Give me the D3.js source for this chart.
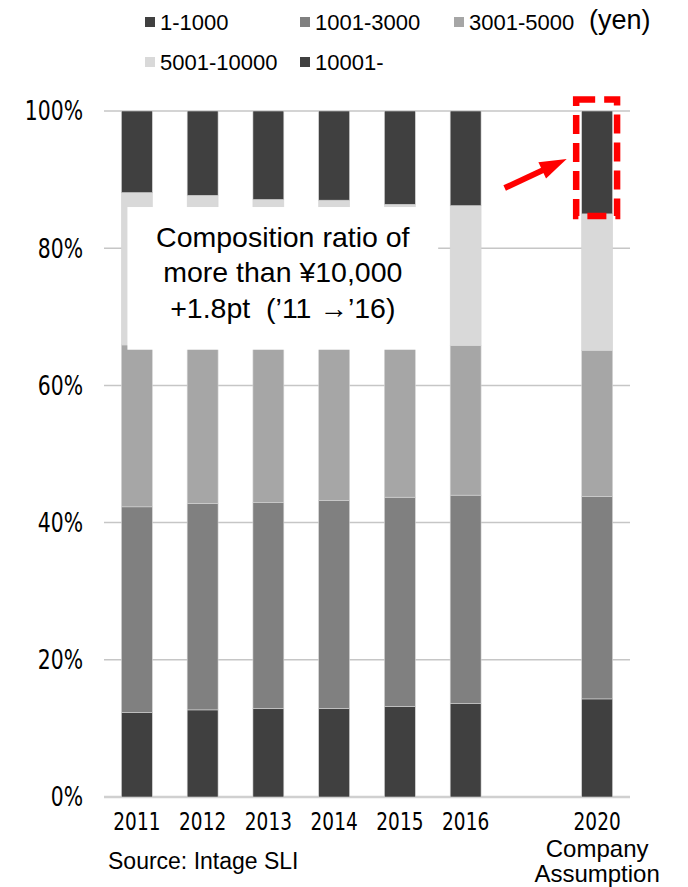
<!DOCTYPE html>
<html lang="en">
<head>
    <meta charset="UTF-8">
    <title>Price band composition</title>
    <script src="https://d3js.org/d3.v7.min.js"></script>
    <style>
        body {
            margin: 0;
            background: #fff;
        }
        svg {
            display: block;
            font-family: "Liberation Sans", Arial, sans-serif;
        }
        .grid line {
            stroke: #c6c6c6;
            stroke-width: 1.5px;
        }
        .ylab, .xlab {
            font-family: "DejaVu Sans Condensed", "Liberation Sans Narrow", sans-serif;
            fill: #000;
        }
        .legend text {
            font-size: 22px;
        }
        .note {
            white-space: pre;
        }
    </style>
</head>
<body>
    <svg width="688" height="887"></svg>

    <script>
        // values, share in % of each year's total
        const years = ["2011", "2012", "2013", "2014", "2015", "2016", "gap", "2020"];
        const series = ["1-1000", "1001-3000", "3001-5000", "5001-10000", "10001-"];
        const colors = ["#404040", "#808080", "#a6a6a6", "#d9d9d9", "#404040"];

        const band1to1000 = [12.3, 12.7, 12.9, 12.9, 13.2, 13.6, null, 14.3];
        const band1001to3000 = [30.0, 30.1, 30.0, 30.3, 30.5, 30.4, null, 29.5];
        const band3001to5000 = [23.6, 22.8, 22.6, 22.4, 22.0, 21.8, null, 21.3];
        const band5001to10000 = [22.2, 22.1, 21.6, 21.4, 20.7, 20.4, null, 19.9];
        const band10001up = [11.9, 12.3, 12.9, 13.0, 13.6, 13.8, null, 15.0];

        const xLabels = [["2011"], ["2012"], ["2013"], ["2014"], ["2015"], ["2016"], [], ["2020"]];
        const subLabels = ["Company", "Assumption"];
        const yTicks = [0, 20, 40, 60, 80, 100];

        const svg = d3.select("svg");

        const x = d3.scaleBand()
            .domain(years)
            .range([104, 630])
            .paddingInner(0.53)
            .paddingOuter(0.265);

        const y = d3.scaleLinear()
            .domain([0, 100])
            .range([797, 111]);

        // rows for the stack, the empty slot is skipped
        const rows = years.map((yr, i) => ({
            year: yr,
            "1-1000": band1to1000[i],
            "1001-3000": band1001to3000[i],
            "3001-5000": band3001to5000[i],
            "5001-10000": band5001to10000[i],
            "10001-": band10001up[i]
        })).filter(d => d["1-1000"] !== null);

        const stacked = d3.stack().keys(series)(rows);

        // gridlines
        svg.append("g")
            .attr("class", "grid")
            .selectAll("line")
            .data(yTicks)
            .enter().append("line")
            .attr("x1", 104)
            .attr("x2", 630)
            .attr("y1", d => y(d))
            .attr("y2", d => y(d))
            .style("stroke", d => d === 0 ? "#d0d0d0" : null)
            .style("stroke-width", d => d === 0 ? "2.5px" : null);

        // y labels, squeezed a bit like the narrow font of the original
        svg.append("g")
            .selectAll("text")
            .data(yTicks)
            .enter().append("text")
            .attr("class", "ylab")
            .attr("transform", d => `translate(83,${y(d)}) scale(0.87,1)`)
            .attr("dy", "0.36em")
            .attr("text-anchor", "end")
            .style("font-size", "26px")
            .text(d => d + "%");

        // bars
        svg.append("g")
            .selectAll("g")
            .data(stacked)
            .enter().append("g")
            .attr("fill", (d, i) => colors[i])
            .selectAll("rect")
            .data(d => d)
            .enter().append("rect")
            .attr("x", d => x(d.data.year))
            .attr("width", x.bandwidth())
            .attr("y", d => y(d[1]))
            .attr("height", d => y(d[0]) - y(d[1]))
            .attr("stroke", "#d4d4d4")
            .attr("stroke-width", 0.6);

        // x labels
        svg.append("g")
            .selectAll("text")
            .data(years.map((yr, i) => ({ year: yr, label: xLabels[i][0] })).filter(d => d.label))
            .enter().append("text")
            .attr("class", "xlab")
            .attr("text-anchor", "middle")
            .attr("transform", d => `translate(${x(d.year) + x.bandwidth() / 2},821) scale(0.84,1)`)
            .attr("dy", "0.36em")
            .style("font-size", "24.5px")
            .text(d => d.label);

        svg.append("g")
            .selectAll("text")
            .data(subLabels)
            .enter().append("text")
            .attr("x", x("2020") + x.bandwidth() / 2)
            .attr("y", (d, i) => 849 + i * 24.5)
            .attr("dy", "0.34em")
            .attr("text-anchor", "middle")
            .style("font-size", "24px")
            .text(d => d);

        svg.append("text")
            .attr("x", 108)
            .attr("y", 861)
            .attr("dy", "0.36em")
            .style("font-size", "23px")
            .text("Source: Intage SLI");

        // annotation box on top of the bars
        const boxL = x("2011") + 6;
        const boxR = x("2016") - 12;
        svg.append("rect")
            .attr("x", boxL)
            .attr("y", y(86))
            .attr("width", boxR - boxL)
            .attr("height", y(65.2) - y(86))
            .attr("fill", "#fff");

        svg.append("g")
            .selectAll("text")
            .data(["Composition ratio of", "more than \u00a510,000", "+1.8pt  (\u201911 \u2192\u201916)"])
            .enter().append("text")
            .attr("class", "note")
            .attr("x", (boxL + boxR) / 2)
            .attr("y", (d, i) => 237 + i * 35.2)
            .attr("dy", "0.36em")
            .attr("text-anchor", "middle")
            .style("font-size", "28.5px")
            .text(d => d);

        // red dashed highlight round the 2020 top segment
        const rx = x("2020");
        svg.append("rect")
            .attr("x", rx - 5.5)
            .attr("y", y(100) - 11.5)
            .attr("width", x.bandwidth() + 10)
            .attr("height", y(85) - y(100) + 13.5)
            .attr("fill", "none")
            .attr("stroke", "#ff0000")
            .attr("stroke-width", 6.5)
            .attr("stroke-dasharray", "19,9");

        // arrow
        const tip = [rx - 15, y(93)];
        const tail = [tip[0] - 62, tip[1] + 29];
        const ang = Math.atan2(tip[1] - tail[1], tip[0] - tail[0]);
        const headLen = 27, headHalf = 9;
        const base = [tip[0] - headLen * Math.cos(ang), tip[1] - headLen * Math.sin(ang)];
        svg.append("line")
            .attr("x1", tail[0])
            .attr("y1", tail[1])
            .attr("x2", base[0] + 2 * Math.cos(ang))
            .attr("y2", base[1] + 2 * Math.sin(ang))
            .attr("stroke", "#ff0000")
            .attr("stroke-width", 6);
        svg.append("path")
            .attr("d", d3.line()([
                tip,
                [base[0] - headHalf * Math.sin(ang), base[1] + headHalf * Math.cos(ang)],
                [base[0] + headHalf * Math.sin(ang), base[1] - headHalf * Math.cos(ang)]
            ]) + "Z")
            .attr("fill", "#ff0000");

        // legend
        const legendPos = [[145, 22], [300, 22], [454, 22], [145, 62], [300, 62]];
        const legend = svg.append("g")
            .attr("class", "legend")
            .selectAll("g")
            .data(series)
            .enter().append("g")
            .attr("transform", (d, i) => `translate(${legendPos[i][0]},${legendPos[i][1]})`);

        legend.append("rect")
            .attr("x", 0)
            .attr("y", -5)
            .attr("width", 10)
            .attr("height", 10)
            .attr("fill", (d, i) => colors[i]);

        legend.append("text")
            .attr("x", 15)
            .attr("dy", "0.36em")
            .text(d => d);

        svg.append("text")
            .attr("x", 589)
            .attr("y", 19)
            .attr("dy", "0.36em")
            .style("font-size", "27px")
            .text("(yen)");
    </script>
</body>
</html>
